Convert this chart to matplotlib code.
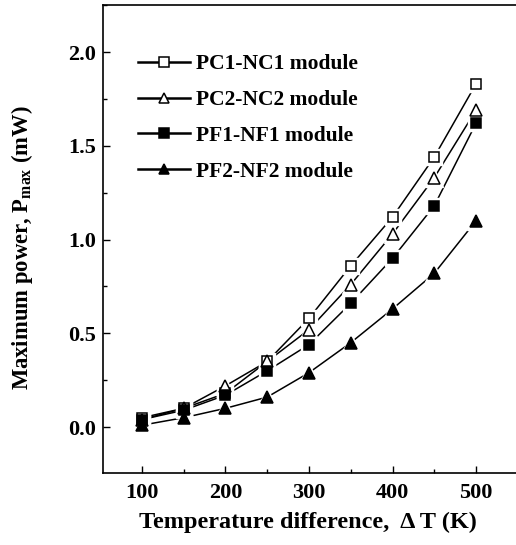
import matplotlib
matplotlib.use("Agg")
import matplotlib.pyplot as plt
from matplotlib.lines import Line2D
from matplotlib.ticker import MultipleLocator

plt.rcParams['font.family'] = ['Liberation Serif', 'DejaVu Serif']
plt.rcParams['font.weight'] = 'bold'
plt.rcParams['mathtext.fontset'] = 'custom'
plt.rcParams['mathtext.rm'] = 'Liberation Serif'
plt.rcParams['mathtext.bf'] = 'Liberation Serif:bold'

delta_t = [100, 150, 200, 250, 300, 350, 400, 450, 500]
pc1_nc1 = [0.05, 0.10, 0.18, 0.35, 0.58, 0.86, 1.12, 1.44, 1.83]
pc2_nc2 = [0.04, 0.10, 0.22, 0.35, 0.52, 0.76, 1.03, 1.33, 1.69]
pf1_nf1 = [0.04, 0.09, 0.17, 0.30, 0.44, 0.66, 0.90, 1.18, 1.62]
pf2_nf2 = [0.01, 0.05, 0.10, 0.16, 0.29, 0.45, 0.63, 0.82, 1.10]
labels = ['PC1-NC1 module', 'PC2-NC2 module', 'PF1-NF1 module', 'PF2-NF2 module']

series = [pc1_nc1, pc2_nc2, pf1_nf1, pf2_nf2]
markers = ['s', '^', 's', '^']
facecolors = ['white', 'white', 'black', 'black']

W, H = 516, 545
fig = plt.figure(figsize=(W / 100, H / 100), dpi=100)
ax = fig.add_axes([103 / W, 72 / H, 413 / W, 468 / H])

for ys, m, fc in zip(series, markers, facecolors):
    ms = 7.5 if m == 's' else 8.5
    ax.plot(delta_t, ys, color='black', lw=1.1, zorder=2)
    ax.plot(delta_t, ys, ls='none', marker=m, ms=ms + 4.5, mfc='white',
            mec='white', zorder=3)
for ys, m, fc in zip(series, markers, facecolors):
    ms = 7.5 if m == 's' else 8.5
    ax.plot(delta_t, ys, ls='none', marker=m, ms=ms, mfc=fc, mec='black',
            mew=1.1, zorder=4)

ax.set_xlim(53.3, 547.9)
ax.set_ylim(-0.245, 2.251)
ax.xaxis.set_major_locator(MultipleLocator(100))
ax.xaxis.set_minor_locator(MultipleLocator(50))
ax.yaxis.set_major_locator(MultipleLocator(0.5))
ax.yaxis.set_minor_locator(MultipleLocator(0.25))
ax.set_yticks([0.0, 0.5, 1.0, 1.5, 2.0])
ax.set_yticklabels(['0.0', '0.5', '1.0', '1.5', '2.0'])
ax.set_xticks([100, 200, 300, 400, 500])
ax.tick_params(which='both', direction='in', labelsize=16, width=1)
ax.tick_params(which='major', length=5)
ax.tick_params(which='minor', length=3)
ax.tick_params(axis='x', pad=7)
ax.tick_params(axis='y', pad=5)
for lab in ax.get_xticklabels() + ax.get_yticklabels():
    lab.set_fontweight('bold')
ax.spines['right'].set_visible(False)
for s in ['left', 'bottom', 'top']:
    ax.spines[s].set_linewidth(1.2)

fig.text(308 / W, 1 - 522 / H, 'Temperature difference,  \u0394 T (K)',
         ha='center', va='center', fontsize=17.5, fontweight='bold')
fig.text(22 / W, 1 - 248 / H,
         r'Maximum power, P$_{\mathregular{max}}$ (mW)',
         rotation=90, ha='center', va='center', fontsize=16.3, fontweight='bold')

handles = [Line2D([], [], color='black', lw=1.8, marker=m, ms=6.5, mfc=fc,
                  mec='black', mew=1.1) for m, fc in zip(markers, facecolors)]
ax.legend(handles, labels, loc='upper left', bbox_to_anchor=(0.039, 0.936),
          frameon=False, handlelength=2.4, handletextpad=0.28,
          labelspacing=0.73, prop={'weight': 'bold', 'size': 15.5})

fig.savefig('out.png', dpi=100)
